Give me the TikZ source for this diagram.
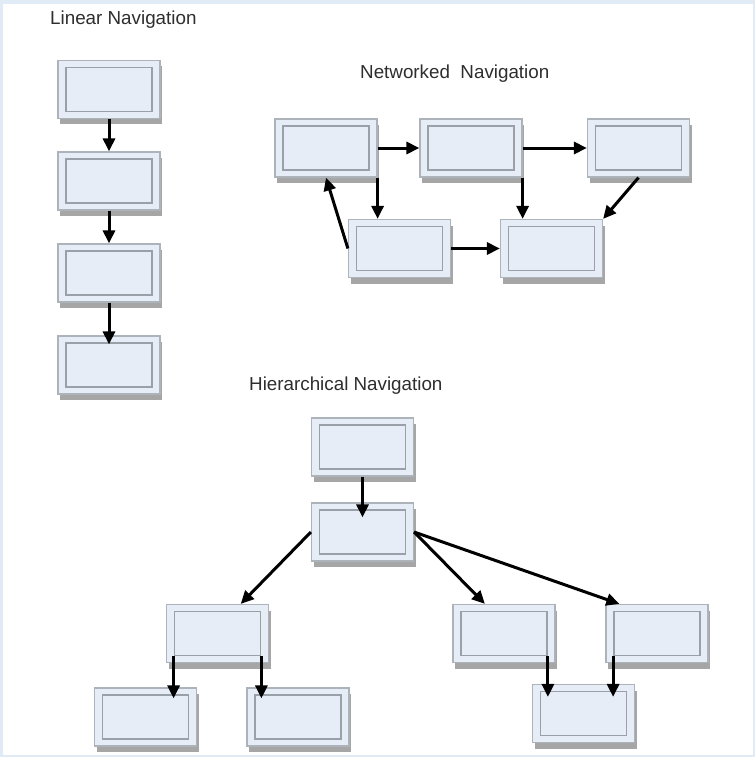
\documentclass[tikz,border=0pt]{standalone}
\usepackage{fontspec}
\setmainfont{Liberation Sans}
\usetikzlibrary{arrows.meta,shadows,calc}
\definecolor{pagefill}{HTML}{E7EDF7}
\definecolor{pageline}{HTML}{ADB3BB}
\definecolor{innerline}{HTML}{9AA0A8}
\definecolor{framecol}{HTML}{E1EBF5}
\definecolor{titlecol}{HTML}{2E2E2E}

% one page of the site: outer box with shadow, inner frame
\newcommand{\pagebox}[2]{%
  \node[page] (#1) at (#2) {};
  \node[innerpage] (#1i) at (#2) {};
}

\begin{document}
\begin{tikzpicture}[x=1pt, y=-1pt,
    page/.style={draw=pageline, line width=1.2pt, fill=pagefill,
      minimum width=102pt, minimum height=58pt, inner sep=0pt,
      drop shadow={shadow xshift=2pt, shadow yshift=-6pt, fill=black!35, opacity=1}},
    innerpage/.style={draw=innerline, line width=1.8pt,
      minimum width=86pt, minimum height=44pt, inner sep=0pt},
    link/.style={-{Triangle[length=13pt,width=12pt]}, line width=3pt},
    heading/.style={anchor=base west, inner sep=0pt, text=titlecol,
      font=\fontsize{18.8}{22}\selectfont}]

\fill[framecol] (0,0) rectangle (755,757);
\fill[white] (3,4) rectangle (753,755);
\useasboundingbox (0,0) rectangle (755,757);

% titles
\node[heading] (linhead) at (50,25) {Linear Navigation};
\node[heading] (nethead) at (360,79) {Networked\ \ Navigation};
\node[heading] (hierhead) at (249,390) {Hierarchical Navigation};

% linear
\foreach \n/\y in {1/89.5, 2/181, 3/273, 4/365}
  \pagebox{L\n}{109,\y};

\draw[link] (L1.south)--(L2.north);
\draw[link] (L2.south)--(L3.north);
\draw[link, shorten >=-9pt] (L3.south)--(L4.north);

% networked
\pagebox{N1}{326,148}
\pagebox{N2}{471,148}
\pagebox{N3}{638.5,148}
\pagebox{N4}{399.5,248.5}
\pagebox{N5}{551.5,248.5}

\draw[link] (N1.east)--(N2.west);
\draw[link] (N2.east)--(N3.west);
\draw[link] (N1.south east)--(N1.south east |- N4.north);
\draw[link] (N4.west)--(N1.south);
\draw[link] (N2.south east)--(N2.south east |- N5.north);
\draw[link] (N3.south)--(N5.north east);
\draw[link] (N4.east)--(N5.west);

% hierarchical
\pagebox{H1}{362.5,447}
\pagebox{H2}{362.5,532}
\pagebox{H3}{217.5,633.5}
\pagebox{H4}{504,633.5}
\pagebox{H5}{657,633.5}
\pagebox{H6}{145.5,717}
\pagebox{H7}{298,717}
\pagebox{H8}{583.5,713.5}

\coordinate (h3top) at ($(H3.north)!0.45!(H3.north east)$);
\coordinate (h4top) at ($(H4.north west)!0.63!(H4.north)$);
\coordinate (h5top) at ($(H5.north west)!0.27!(H5.north)$);

\draw[link, shorten >=-15pt] (H1.south)--(H2.north);
\draw[link] (H2.west)--(h3top);
\draw[link] (H2.east)--(h4top);
\draw[link] (H2.east)--(h5top);
\draw[link, shorten >=-11pt] (H3i.south west)--(H3i.south west |- H6.north);
\draw[link, shorten >=-11pt] (H3i.south east)--(H3i.south east |- H7.north);
\draw[link, shorten >=-13pt] (H4i.south east)--(H4i.south east |- H8.north);
\draw[link, shorten >=-13pt] (H5i.south west)--(H5i.south west |- H8.north);

\end{tikzpicture}
\end{document}
